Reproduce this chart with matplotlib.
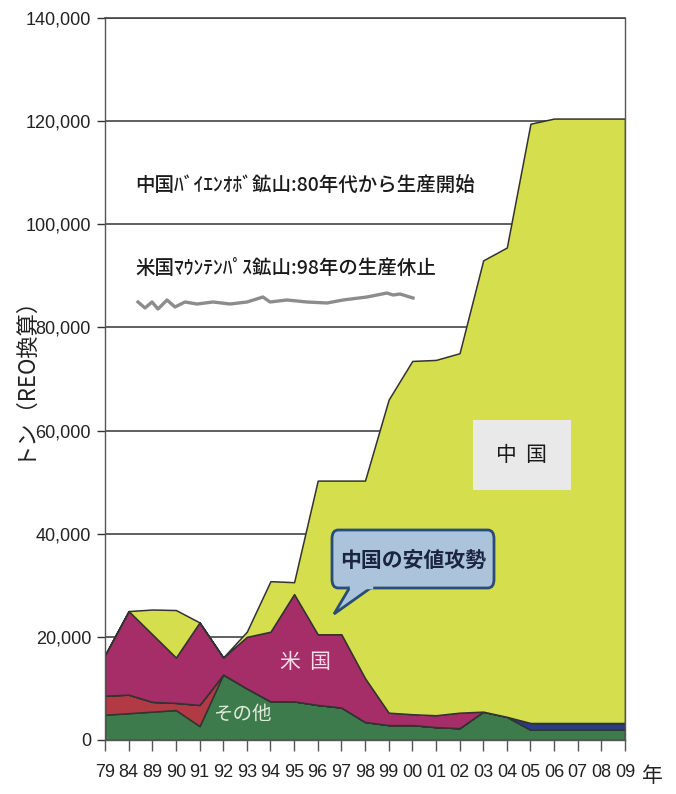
import numpy as np
import matplotlib
matplotlib.use('Agg')
import matplotlib.pyplot as plt
from matplotlib.patches import FancyBboxPatch
from matplotlib.ticker import FuncFormatter

plt.rcParams['font.family'] = ['Liberation Sans', 'Noto Sans CJK JP', 'DejaVu Sans']
JP = ['Noto Sans CJK JP', 'DejaVu Sans']

# --- data (tonnes, REO) ---
years = ['79', '84', '89', '90', '91', '92', '93', '94', '95', '96', '97', '98',
         '99', '00', '01', '02', '03', '04', '05', '06', '07', '08', '09']
other = [4900, 5200, 5500, 5800, 2700, 12700, 10000, 7500, 7500, 6800, 6300, 3500,
         2900, 2900, 2500, 2300, 5500, 4500, 2000, 2000, 2000, 2000, 2000]
other_red = [3700, 3600, 1900, 1400, 4100, 0, 0, 0, 0, 0, 0, 0,
             0, 0, 0, 0, 0, 0, 0, 0, 0, 0, 0]
other_navy = [0, 0, 0, 0, 0, 0, 0, 0, 0, 0, 0, 0,
              0, 0, 0, 0, 0, 0, 1300, 1300, 1300, 1300, 1300]
usa = [7900, 16200, 13100, 8800, 16000, 3300, 10000, 13500, 20800, 13700, 14200, 8500,
       2400, 2100, 2300, 3000, 0, 0, 0, 0, 0, 0, 0]
china = [0, 0, 4800, 9200, 0, 0, 1000, 9800, 2300, 29800, 29800, 38300,
         60700, 68500, 68900, 69700, 87500, 91000, 116200, 117200, 117200, 117200, 117200]
yticks = [0, 20000, 40000, 60000, 80000, 100000, 120000, 140000]

# hand-drawn squiggle under the US mine note (pixel-ish positions)
squig_x = [138, 145, 152, 158, 167, 175, 185, 197, 213, 230, 247, 263, 270, 287,
           307, 327, 343, 367, 387, 393, 400, 413]
squig_y = [302, 308, 302, 309, 300, 307, 302, 304, 302, 304, 302, 297, 302, 300,
           302, 303, 300, 297, 293, 295, 294, 298]


def ax_pos(px, py):
    # reference pixel -> axes fraction
    return (px - 105) / 520, (740 - py) / 722


fig = plt.figure(figsize=(6.76, 7.94), dpi=100)
ax = fig.add_axes([105 / 676, 1 - 740 / 794, 520 / 676, 722 / 794])

x = np.arange(len(years))
colors = ['#3d7a4c', '#b13a45', '#2c3b85', '#a52e68', '#d5df4e']
ax.stackplot(x, other, other_red, other_navy, usa, china, colors=colors,
             edgecolor='#333333', linewidth=1.1, zorder=2)

ax.set_xlim(0, len(years) - 1)
ax.set_ylim(0, 140000)
ax.set_yticks(yticks)
ax.yaxis.set_major_formatter(FuncFormatter(lambda v, p: f'{int(v):,}'))
ax.set_xticks(x)
ax.set_xticklabels(years)
ax.grid(axis='y', color='#444444', linewidth=1.2, zorder=0)
ax.set_axisbelow(True)
for s in ['left', 'right', 'top', 'bottom']:
    ax.spines[s].set_color('#555555')
    ax.spines[s].set_linewidth(1.0)
ax.spines['top'].set_color('#444444')
ax.spines['top'].set_linewidth(1.2)
ax.tick_params(axis='y', length=6, width=1, direction='out', labelsize=13, pad=4,
               colors='#333333', labelcolor='#222222')
ax.tick_params(axis='x', length=8, width=1, direction='out', labelsize=13, pad=9,
               colors='#555555', labelcolor='#222222')
ax.set_ylabel('トン（REO換算）', fontsize=16, family=JP, color='#222222')
ax.yaxis.set_label_coords(-0.137, 0.51)

fig.text(652 / 676, 1 - 776 / 794, '年', fontsize=15, family=JP, ha='center',
         va='center', color='#222222')

# annotations
ax.text(*ax_pos(135, 185), '中国ﾊﾞｲｴﾝｵﾎﾞ鉱山:80年代から生産開始', transform=ax.transAxes,
        fontsize=14, family=JP, fontweight='medium', va='center', ha='left',
        color='#1a1a1a', zorder=5)
ax.text(*ax_pos(135, 268), '米国ﾏｳﾝﾃﾝﾊﾟｽ鉱山:98年の生産休止', transform=ax.transAxes,
        fontsize=14, family=JP, fontweight='medium', va='center', ha='left',
        color='#1a1a1a', zorder=5)
sx, sy = zip(*[ax_pos(a, b) for a, b in zip(squig_x, squig_y)])
ax.plot(sx, sy, transform=ax.transAxes, color='#8c8c8c', linewidth=2.4, zorder=5)

ax.text(*ax_pos(522, 455), '中  国', transform=ax.transAxes,
        fontsize=15, family=JP, ha='center', va='center', color='#1a1a1a', zorder=6,
        bbox=dict(boxstyle='square,pad=1.15', fc='#e9e9ea', ec='none'))
ax.text(*ax_pos(305, 662), '米  国', transform=ax.transAxes,
        fontsize=15, family=JP, ha='center', va='center', color='#f3dbe8', zorder=6)
ax.text(*ax_pos(242, 714), 'その他', transform=ax.transAxes,
        fontsize=14, family=JP, ha='center', va='center', color='#dfead9', zorder=6)

# callout
box = FancyBboxPatch(ax_pos(332, 588), 162 / 520, 58 / 722,
                     boxstyle='round,pad=0,rounding_size=0.012', transform=ax.transAxes,
                     fc='#abc4dc', ec='#294c78', linewidth=2, zorder=7)
ax.add_patch(box)
tail = plt.Polygon([ax_pos(350, 587), ax_pos(334, 614), ax_pos(372, 587)],
                   closed=False, transform=ax.transAxes, fc='#abc4dc', ec='#294c78',
                   linewidth=2, zorder=8)
ax.add_patch(tail)
ax.plot([ax_pos(351, 587)[0], ax_pos(371, 587)[0]], [ax_pos(0, 587)[1]] * 2,
        transform=ax.transAxes, color='#abc4dc', linewidth=2.5, zorder=9)
ax.text(*ax_pos(413, 560), '中国の安値攻勢', transform=ax.transAxes,
        fontsize=15, family=JP, fontweight='bold', ha='center', va='center',
        color='#1b2440', zorder=10)

plt.savefig('out.png', dpi=100)
